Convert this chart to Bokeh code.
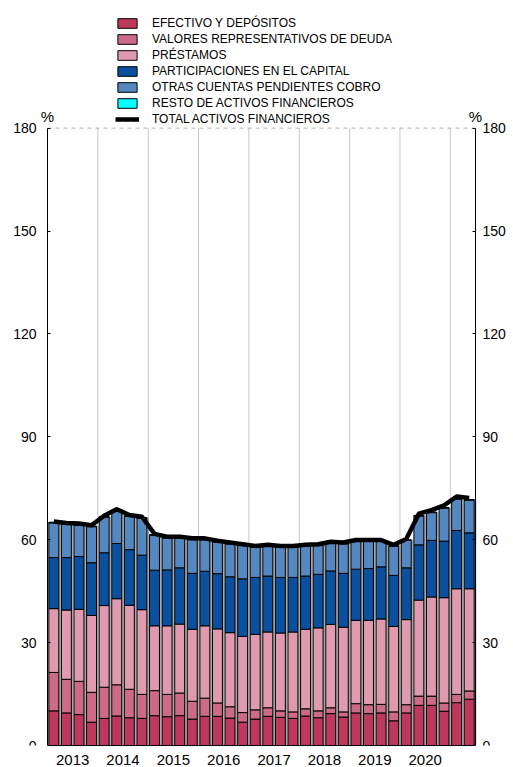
from bokeh.plotting import figure
from bokeh.models import (FixedTicker, Legend, LegendItem, Label, ColumnDataSource,
                          LinearAxis, Range1d)
from bokeh.transform import dodge
from bokeh.embed import file_html
from bokeh.resources import INLINE

# ---------------- data (quarterly, 2013 T1 - 2021 T2) ----------------
year_labels = ["2013", "2014", "2015", "2016", "2017", "2018", "2019", "2020"]
periods = [f"{y}T{q}" for y in range(2013, 2022) for q in range(1, 5)][:34]

efectivo = [10.1, 9.5, 9.0, 6.8, 7.9, 8.6, 8.1, 7.9, 8.7, 8.4, 8.7, 7.7, 8.5, 8.5, 8.0, 6.8,
            7.7, 8.5, 8.2, 7.9, 8.6, 8.1, 9.3, 8.3, 9.5, 9.3, 9.5, 7.2, 9.5, 11.7, 11.7, 10.0,
            12.5, 13.5]
valores = [11.2, 9.8, 9.7, 8.7, 9.1, 9.1, 8.3, 7.0, 7.3, 6.5, 6.6, 5.2, 5.3, 3.9, 3.3, 2.8,
           2.7, 2.5, 1.9, 1.9, 2.1, 2.0, 1.7, 1.5, 2.7, 2.6, 2.5, 2.6, 2.4, 2.7, 2.7, 2.4,
           2.4, 2.4]
prestamos = [18.6, 20.2, 21.0, 22.4, 23.8, 25.1, 24.5, 24.7, 18.9, 20.0, 20.1, 21.0, 21.1, 21.6,
             21.6, 22.2, 22.0, 22.1, 22.7, 23.3, 23.2, 24.2, 24.3, 24.7, 24.3, 24.6, 24.9, 24.9,
             24.8, 28.0, 28.9, 30.7, 30.8, 29.8]
participaciones = [14.9, 15.3, 15.4, 15.4, 15.4, 16.1, 16.2, 15.9, 16.2, 16.3, 16.4, 16.3, 15.9,
                   16.1, 16.3, 16.8, 16.6, 16.3, 16.2, 15.9, 15.5, 15.6, 15.6, 15.7, 14.9, 15.1,
                   15.2, 14.9, 15.1, 16.1, 16.5, 16.5, 17.0, 16.3]
otras = [10.1, 9.7, 9.2, 10.5, 10.4, 9.6, 9.7, 10.8, 10.2, 9.3, 8.7, 9.8, 9.2, 9.2, 9.6, 9.7,
         8.8, 8.7, 8.8, 8.8, 8.7, 8.4, 8.1, 8.6, 8.1, 7.9, 7.4, 8.5, 8.0, 8.4, 8.1, 9.6,
         9.1, 9.5]
resto = [0.2] * 34
total = [65.3, 64.9, 64.7, 64.2, 67.0, 68.9, 67.2, 66.7, 61.7, 60.9, 60.9, 60.4, 60.4, 59.7,
         59.2, 58.7, 58.2, 58.5, 58.2, 58.2, 58.5, 58.7, 59.4, 59.2, 59.9, 59.9, 59.9, 58.5,
         60.2, 67.6, 68.6, 70.0, 72.6, 72.2]

y_ticks = [0, 30, 60, 90, 120, 150, 180]
y_max = 180

names = ["EFECTIVO Y DEPÓSITOS", "VALORES REPRESENTATIVOS DE DEUDA", "PRÉSTAMOS",
         "PARTICIPACIONES EN EL CAPITAL", "OTRAS CUENTAS PENDIENTES COBRO",
         "RESTO DE ACTIVOS FINANCIEROS", "TOTAL ACTIVOS FINANCIEROS"]
colors = ["#BE385E", "#CC6A87", "#DF9AAF", "#0B4F9F", "#5587C1", "#00FFFF"]

# ---------------- build ----------------
n = len(periods)
xs = [i + 0.5 for i in range(n)]
stack_keys = ["efectivo", "valores", "prestamos", "participaciones", "otras", "resto"]
bars_top = [sum(v) for v in zip(efectivo, valores, prestamos, participaciones, otras, resto)]
src = ColumnDataSource(dict(x=xs, periodo=periods, efectivo=efectivo, valores=valores,
                            prestamos=prestamos, participaciones=participaciones,
                            otras=otras, resto=resto, total=total, barstop=bars_top))

FONT = "Liberation Sans"

# layout in pixels
W, H = 513, 767
left_px, right_px, bottom_px = 47, 38, 20
frame_h = H - bottom_px
plot_w_px = W - left_px - right_px
plot_h_px = 747 - 128
px_per_x = plot_w_px / n
px_per_y = plot_h_px / y_max
x_start = -left_px / px_per_x
x_end = n + right_px / px_per_x
y_end = frame_h / px_per_y

p = figure(width=W, height=H, output_backend="svg", toolbar_location=None,
           x_range=Range1d(x_start, x_end), y_range=Range1d(0, y_end),
           min_border_left=0, min_border_right=0, min_border_top=0,
           min_border_bottom=bottom_px,
           background_fill_color="white", border_fill_color="white")
p.outline_line_color = None

# year separators and dashed top border
bounds_x = [4 * i for i in range(1, len(year_labels) + 1)]
p.segment(x0=bounds_x, y0=[0] * len(bounds_x), x1=bounds_x, y1=[y_max] * len(bounds_x),
          line_color="#c8c8c8", line_width=1)
p.segment(x0=[0], y0=[y_max], x1=[n], y1=[y_max], line_color="#b0b0b0",
          line_dash="4 4", line_width=1)

# shadow behind bars
p.vbar(x=dodge("x", 0.17, range=p.x_range), top="barstop", width=0.79, source=src,
       fill_color="#a8a8a8", line_color=None)

renderers = p.vbar_stack(stack_keys, x="x", width=0.79, source=src, fill_color=colors,
                         line_color="black", line_width=1)

line_r = p.line(x="x", y="total", source=src, line_color="black", line_width=4.5,
                line_join="round")

# axes
p.xaxis.ticker = FixedTicker(ticks=[4 * i + 2 for i in range(len(year_labels))])
p.xaxis.major_label_overrides = {4 * i + 2: lab for i, lab in enumerate(year_labels)}
p.xaxis.major_tick_line_color = None
p.xaxis.minor_tick_line_color = None
p.xaxis.axis_line_color = "black"
p.xaxis.bounds = (0, n)
p.xaxis.major_label_standoff = 3
p.xaxis.major_label_text_font = FONT
p.xaxis.major_label_text_font_size = "15px"
p.xaxis.major_label_text_color = "black"

yt = FixedTicker(ticks=y_ticks)
lax = p.yaxis[0]
lax.ticker = yt
lax.fixed_location = 0
lax.bounds = (0, y_max)
lax.major_tick_in = 3
lax.major_tick_out = 0
lax.minor_tick_line_color = None
lax.axis_line_color = "black"
lax.major_label_standoff = 11
lax.major_label_text_font = FONT
lax.major_label_text_font_size = "14px"
lax.major_label_text_color = "black"

rax = LinearAxis(ticker=yt, fixed_location=n, bounds=(0, y_max),
                 major_tick_in=3, major_tick_out=0, minor_tick_line_color=None,
                 axis_line_color="black", major_label_standoff=7,
                 major_label_text_font=FONT, major_label_text_font_size="14px",
                 major_label_text_color="black")
p.add_layout(rax, "right")

p.xgrid.grid_line_color = None
p.ygrid.grid_line_color = None

for xv in [0, n]:
    p.add_layout(Label(x=xv, y=y_max, text="%", y_offset=3, text_align="center",
                       text_baseline="bottom", text_font=FONT, text_font_size="15px",
                       text_color="black"))

items = [LegendItem(label=names[i], renderers=[renderers[i]]) for i in range(6)]
items.append(LegendItem(label=names[6], renderers=[line_r]))
legend = Legend(items=items, location=(115, 619), orientation="vertical",
                glyph_width=24, glyph_height=12, label_height=12, spacing=2,
                label_standoff=13, padding=0, margin=0,
                label_text_font=FONT, label_text_font_size="12px",
                label_text_color="black",
                background_fill_alpha=0, border_line_alpha=0)
p.add_layout(legend)

open("out.html", "w").write(file_html(p, INLINE))
